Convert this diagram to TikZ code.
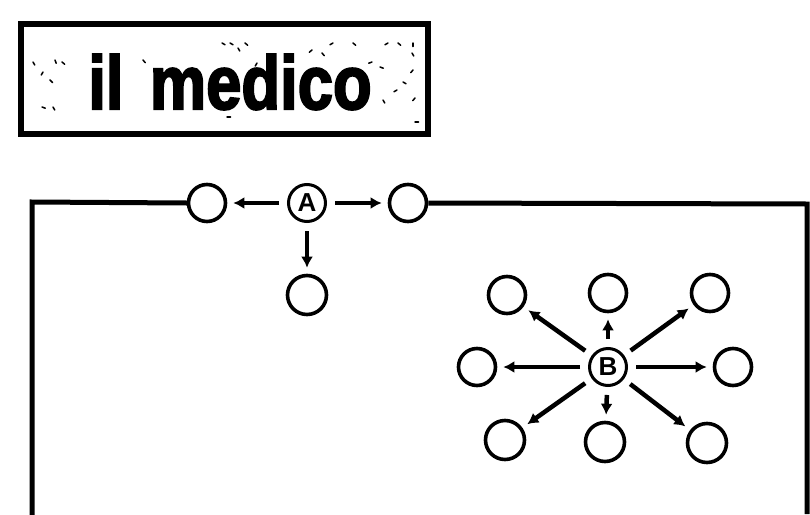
\documentclass[tikz,border=0pt]{standalone}
\usepackage{fontspec}
\setmainfont{Liberation Sans}
\newfontfamily\heavyfont{Liberation Sans}[BoldFeatures={FakeBold=3}]
\usetikzlibrary{arrows.meta}
\tikzset{
  ring/.style={circle,draw,line width=3.6pt,minimum size=37pt,inner sep=0pt},
  lettered/.style={ring,line width=3pt,font=\bfseries\fontsize{26}{26}\selectfont},
  arr/.style={line width=4.5pt,-{Latex[length=11pt,width=12pt]},shorten <=8pt,shorten >=6pt},
  frameline/.style={line width=5pt},
  speck/.style={line width=1.5pt,line cap=round}
}
\begin{document}
\begin{tikzpicture}[x=1pt,y=-1pt]
\useasboundingbox (0,0) rectangle (810,514);
% title box
\draw[line width=6pt] (21,24) rectangle (428,134);
\node[anchor=base,inner sep=0pt,xscale=0.88,yscale=1.05,font=\heavyfont\bfseries\fontsize{72}{72}\selectfont] (title) at (230,109) {il\hspace{30pt}medico};
% specks
\foreach \x/\y/\a in {33/62/60,43/72/120,50/80/45,55/60/70,62/62/40,42/107/20,53/107/60,143/60/50,222/43/30,230/43/30,238/48/60,245/43/40,227/117/0,257/63/120,312/50/140,322/53/50,333/43/150,353/43/40,372/62/160,380/67/20,388/43/150,398/43/40,413/43/90,412/53/60,413/70/130,403/82/30,397/90/150,383/100/60,415/98/130,415/122/0}
  \draw[speck] (\x,\y) -- ++(\a:3.5);
% nodes
\node[ring] (al) at (207,203) {};
\node[lettered] (A) at (307,203) {A};
\node[ring] (ar) at (408,203) {};
\node[ring,minimum width=39pt,minimum height=38pt] (ad) at (307,295) {};
\node[lettered] (B) at (608,367) {B};
\node[ring] (b1) at (507,295) {};
\node[ring] (b2) at (608,293) {};
\node[ring] (b3) at (710,293) {};
\node[ring] (b4) at (477,367) {};
\node[ring] (b5) at (733,367) {};
\node[ring,minimum height=39pt] (b6) at (505,440) {};
\node[ring,minimum height=39pt] (b7) at (605,442) {};
\node[ring,minimum height=39pt] (b8) at (707,443) {};
% frame
\coordinate (c1) at (32,202);
\coordinate (c2) at (807,204);
\coordinate (c3) at (32,514);
\coordinate (c4) at (807,514);
\draw[frameline,line cap=rect] (c3) -- (c1) -- (al.west);
\draw[frameline] (ar.east) -- (c2) -- (c4);
% arrows
\draw[arr] (A) -- (al);
\draw[arr] (A) -- (ar);
\draw[arr] (A) -- (ad);
\foreach \t in {b1,b2,b3,b4,b5,b6,b7,b8}
  \draw[arr] (B) -- (\t);
\end{tikzpicture}
\end{document}
